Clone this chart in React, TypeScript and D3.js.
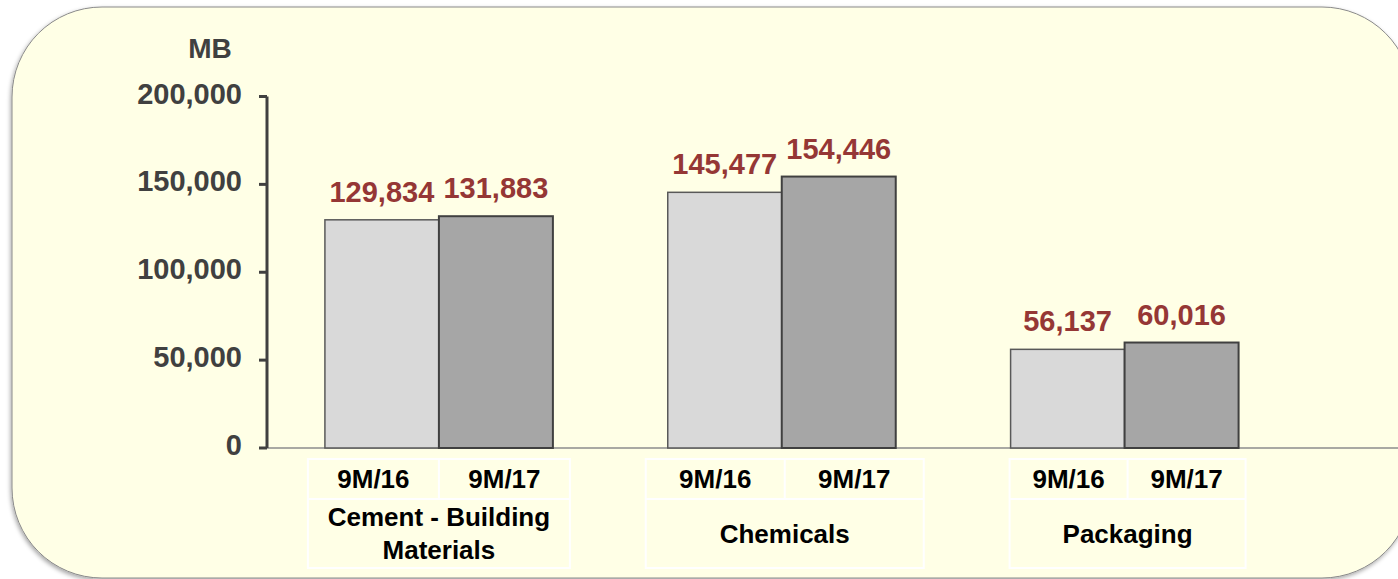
import React from "react";
import * as d3 from "d3";

const categories = ["Cement - Building Materials", "Chemicals", "Packaging"];
const categoryLines = [["Cement - Building", "Materials"], ["Chemicals"], ["Packaging"]];
const periods = ["9M/16", "9M/17"];
const values9M16 = [129834, 145477, 56137];
const values9M17 = [131883, 154446, 60016];
const yTicks = [0, 50000, 100000, 150000, 200000];
const unitLabel = "MB";

const labelBoxWidths = [262, 278, 236];
const labelBoxShift = [0, 3, 3];

const W = 1398;
const H = 579;
const FONT = "'Liberation Sans', Arial, Helvetica, sans-serif";
const fills = ["#D9D9D9", "#A6A6A6"];
const strokes = ["#595959", "#404040"];
const strokeWidths = [1.5, 2];

export default function App() {
  const y = d3.scaleLinear().domain([0, 200000]).range([448, 96.5]);
  const x = d3
    .scaleBand<string>()
    .domain(categories)
    .range([268, 1295.5])
    .paddingInner(0.335)
    .paddingOuter(0.166);
  const xs = d3.scaleBand<string>().domain(periods).range([0, x.bandwidth()]);
  const fmt = d3.format(",");
  const series = [values9M16, values9M17];

  return (
    <svg width={W} height={H} style={{ display: "block", position: "absolute", left: 0, top: 0 }}>
      <defs>
        <filter id="sh" x="-5%" y="-5%" width="110%" height="115%">
          <feDropShadow dx="-1" dy="2" stdDeviation="2" floodColor="#000" floodOpacity="0.35" />
        </filter>
      </defs>
      <rect x={0} y={0} width={W} height={H} fill="#ffffff" />
      <rect
        x={12}
        y={7}
        width={1400}
        height={571}
        rx={90}
        ry={90}
        fill="#FFFFE6"
        stroke="#8A8A8A"
        strokeWidth={1}
        filter="url(#sh)"
      />
      {/* x baseline */}
      <line x1={266} x2={1412} y1={y(0)} y2={y(0)} stroke="#8C8C8C" strokeWidth={1.5} />
      {/* bars */}
      {categories.map((c, ci) =>
        periods.map((p, pi) => {
          const v = series[pi][ci];
          const bx = (x(c) ?? 0) + (xs(p) ?? 0);
          return (
            <rect
              key={c + p}
              x={bx}
              y={y(v)}
              width={xs.bandwidth()}
              height={y(0) - y(v)}
              fill={fills[pi]}
              stroke={strokes[pi]}
              strokeWidth={strokeWidths[pi]}
            />
          );
        })
      )}
      {/* data labels */}
      {categories.map((c, ci) =>
        periods.map((p, pi) => {
          const v = series[pi][ci];
          const cx = (x(c) ?? 0) + (xs(p) ?? 0) + xs.bandwidth() / 2;
          return (
            <text
              key={"l" + c + p}
              x={cx}
              y={y(v) - 18}
              textAnchor="middle"
              fontFamily={FONT}
              fontWeight="bold"
              fontSize={29}
              fill="#953735"
            >
              {fmt(v)}
            </text>
          );
        })
      )}
      {/* y axis */}
      <line x1={267} x2={267} y1={y(200000)} y2={y(0)} stroke="#404040" strokeWidth={3} />
      {yTicks.map((t) => (
        <g key={t}>
          <line x1={259} x2={267} y1={y(t)} y2={y(t)} stroke="#404040" strokeWidth={3} />
          <text
            x={242}
            y={y(t) + 7}
            textAnchor="end"
            fontFamily={FONT}
            fontWeight="bold"
            fontSize={29}
            fill="#404040"
          >
            {fmt(t)}
          </text>
        </g>
      ))}
      <text x={210} y={58} textAnchor="middle" fontFamily={FONT} fontWeight="bold" fontSize={28} fill="#404040">
        {unitLabel}
      </text>
      {/* category label table */}
      {categories.map((c, ci) => {
        const center = (x(c) ?? 0) + x.bandwidth() / 2 + labelBoxShift[ci];
        const bw = labelBoxWidths[ci];
        const left = center - bw / 2;
        const right = center + bw / 2;
        const top = 459;
        const mid = 499;
        const bottom = 568;
        const lines = categoryLines[ci];
        const midY = (mid + bottom) / 2;
        const lh = 33;
        return (
          <g key={"t" + c}>
            <rect x={left} y={top} width={bw} height={bottom - top} fill="none" stroke="#FFFFFF" strokeWidth={2} />
            <line x1={left} x2={right} y1={mid} y2={mid} stroke="#FFFFFF" strokeWidth={2} />
            <line x1={center} x2={center} y1={top} y2={mid} stroke="#FFFFFF" strokeWidth={2} />
            {periods.map((p, pi) => (
              <text
                key={p}
                x={pi === 0 ? (left + center) / 2 : (center + right) / 2}
                y={488}
                textAnchor="middle"
                fontFamily={FONT}
                fontWeight="bold"
                fontSize={26}
                fill="#000000"
              >
                {p}
              </text>
            ))}
            {lines.map((ln, li) => (
              <text
                key={ln}
                x={center}
                y={midY + 9 + (li - (lines.length - 1) / 2) * lh}
                textAnchor="middle"
                fontFamily={FONT}
                fontWeight="bold"
                fontSize={26}
                fill="#000000"
              >
                {ln}
              </text>
            ))}
          </g>
        );
      })}
    </svg>
  );
}
